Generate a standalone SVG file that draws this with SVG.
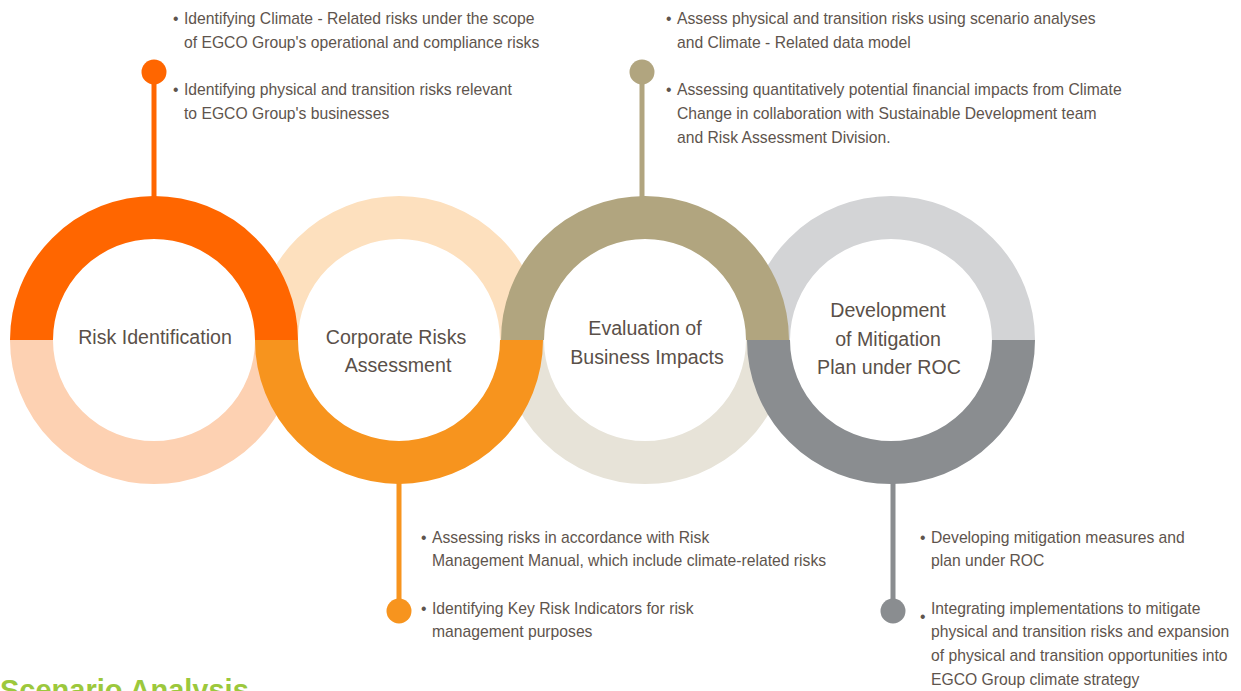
<svg xmlns="http://www.w3.org/2000/svg" width="1241" height="691" viewBox="0 0 1241 691">
  <style>
    .arc { fill: none; stroke-width: 43; stroke-linecap: butt; }
    .label { font-family: "Liberation Sans", Arial, sans-serif; font-size: 19.6px; fill: #5a5049; text-anchor: middle; }
    .note { font-family: "Liberation Sans", Arial, sans-serif; font-size: 15.7px; fill: #5e544d; }
    .stem { stroke-width: 5; fill: none; }
    .title { font-family: "Liberation Sans", Arial, sans-serif; font-size: 29px; font-weight: bold; fill: #9cc83c; }
  </style>
  <rect width="1241" height="691" fill="#ffffff"/>

  <!-- pale half-rings sit underneath the strong halves -->
  <g id="ring-tracks">
    <path class="arc" stroke="#fdd1b2" d="M276.5 340 A122.5 122.5 0 0 1 31.5 340"/>
    <path class="arc" stroke="#fde0be" d="M276.5 340 A122.5 122.5 0 0 1 521.5 340"/>
    <path class="arc" stroke="#e7e3d8" d="M767.5 340 A122.5 122.5 0 0 1 522.5 340"/>
    <path class="arc" stroke="#d3d4d6" d="M768.5 340 A122.5 122.5 0 0 1 1013.5 340"/>
  </g>

  <!-- stems and end dots -->
  <g id="connectors">
    <line class="stem" stroke="#ff6600" x1="154" y1="72" x2="154" y2="200"/>
    <circle cx="154" cy="72" r="12.5" fill="#ff6600"/>
    <line class="stem" stroke="#f7941e" x1="399" y1="480" x2="399" y2="611"/>
    <circle cx="399" cy="611" r="12.5" fill="#f7941e"/>
    <line class="stem" stroke="#b1a57f" x1="642" y1="72" x2="642" y2="200"/>
    <circle cx="642" cy="72" r="12.5" fill="#b1a57f"/>
    <line class="stem" stroke="#8a8d90" x1="893" y1="480" x2="893" y2="611"/>
    <circle cx="893" cy="611" r="12.5" fill="#8a8d90"/>
  </g>

  <g id="node-risk-identification">
    <path class="arc" stroke="#ff6600" d="M31.5 340 A122.5 122.5 0 0 1 276.5 340"/>
    <text class="label" x="155" y="344">Risk Identification</text>
  </g>

  <g id="node-corporate-risks-assessment">
    <path class="arc" stroke="#f7941e" d="M521.5 340 A122.5 122.5 0 0 1 276.5 340"/>
    <text class="label" x="396" y="344">Corporate Risks</text>
    <text class="label" x="398" y="372">Assessment</text>
  </g>

  <g id="node-evaluation-business-impacts">
    <path class="arc" stroke="#b1a57f" d="M522.5 340 A122.5 122.5 0 0 1 767.5 340"/>
    <text class="label" x="645" y="335">Evaluation of</text>
    <text class="label" x="647" y="364">Business Impacts</text>
  </g>

  <g id="node-mitigation-plan">
    <path class="arc" stroke="#8a8d90" d="M1013.5 340 A122.5 122.5 0 0 1 768.5 340"/>
    <text class="label" x="888" y="317">Development</text>
    <text class="label" x="888" y="346">of Mitigation</text>
    <text class="label" x="889" y="374">Plan under ROC</text>
  </g>

  <!-- notes for each stage -->
  <g id="notes-risk-identification">
    <text class="note" x="173" y="24">•</text>
    <text class="note" x="184" y="24">Identifying Climate - Related risks under the scope</text>
    <text class="note" x="184" y="48">of EGCO Group's operational and compliance risks</text>
    <text class="note" x="173" y="95">•</text>
    <text class="note" x="184" y="95">Identifying physical and transition risks relevant</text>
    <text class="note" x="184" y="119">to EGCO Group's businesses</text>
  </g>

  <g id="notes-evaluation">
    <text class="note" x="666" y="24">•</text>
    <text class="note" x="677" y="24">Assess physical and transition risks using scenario analyses</text>
    <text class="note" x="677" y="48">and Climate - Related data model</text>
    <text class="note" x="666" y="95">•</text>
    <text class="note" x="677" y="95">Assessing quantitatively potential financial impacts from Climate</text>
    <text class="note" x="677" y="119">Change in collaboration with Sustainable Development team</text>
    <text class="note" x="677" y="143">and Risk Assessment Division.</text>
  </g>

  <g id="notes-assessment">
    <text class="note" x="421" y="543">•</text>
    <text class="note" x="432" y="543">Assessing risks in accordance with Risk</text>
    <text class="note" x="432" y="566">Management Manual, which include climate-related risks</text>
    <text class="note" x="421" y="614">•</text>
    <text class="note" x="432" y="614">Identifying Key Risk Indicators for risk</text>
    <text class="note" x="432" y="637">management purposes</text>
  </g>

  <g id="notes-mitigation">
    <text class="note" x="920" y="543">•</text>
    <text class="note" x="931" y="543">Developing mitigation measures and</text>
    <text class="note" x="931" y="566">plan under ROC</text>
    <text class="note" x="920" y="622">•</text>
    <text class="note" x="931" y="614">Integrating implementations to mitigate</text>
    <text class="note" x="931" y="637">physical and transition risks and expansion</text>
    <text class="note" x="931" y="661">of physical and transition opportunities into</text>
    <text class="note" x="931" y="685">EGCO Group climate strategy</text>
  </g>

  <text class="title" x="0" y="700">Scenario Analysis</text>
</svg>
